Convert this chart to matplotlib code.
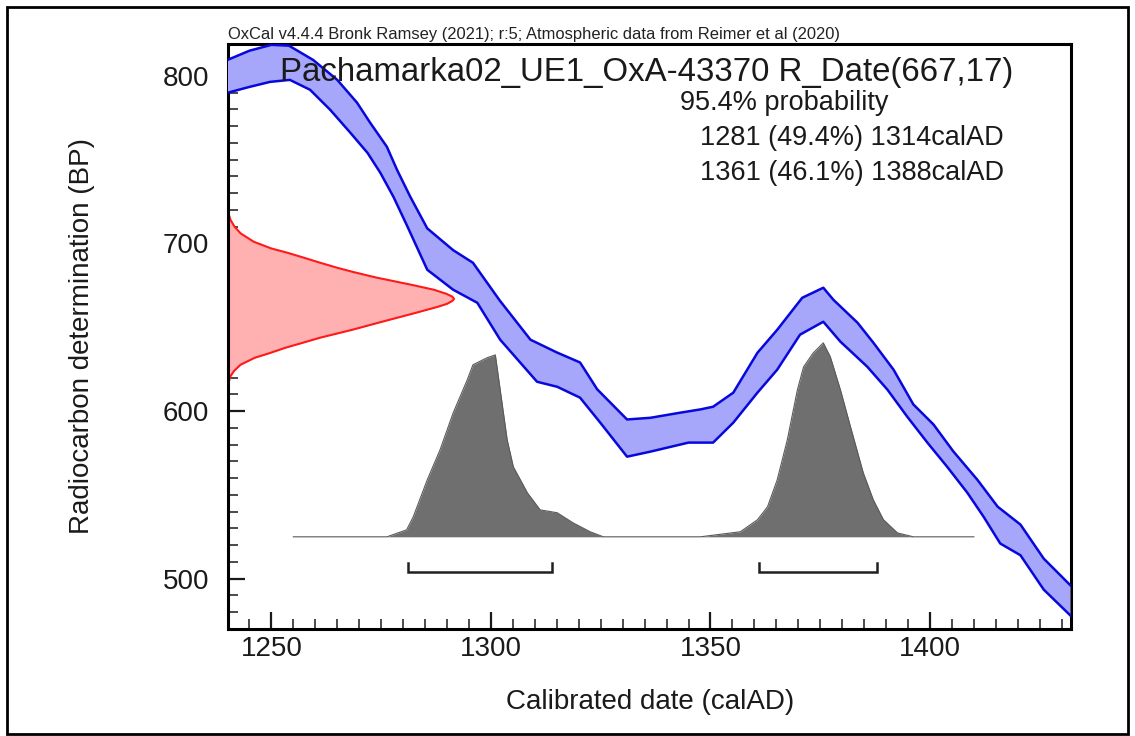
import matplotlib
matplotlib.use("Agg")
import matplotlib.pyplot as plt
from matplotlib.patches import Rectangle
from matplotlib.ticker import MultipleLocator

plt.rcParams['font.family'] = ['Liberation Sans', 'DejaVu Sans']

# ---------------- data ----------------
# Calibration curve band (IntCal20)
curve_upper_cal = [1240, 1245, 1250, 1254, 1259.5, 1265, 1269.5, 1272.5, 1276.3, 1278.6,
                   1281.6, 1285.5, 1291.4, 1295.9, 1302, 1309, 1315, 1320.3, 1324.2, 1331,
                   1336.3, 1343, 1347.7, 1350.6, 1355.2, 1360.7, 1365.2, 1370.9, 1375.7, 1378,
                   1383.5, 1387.1, 1391.7, 1396.2, 1400.8, 1405.3, 1410.8, 1415.4, 1420.6,
                   1425.9, 1432]
curve_upper_bp = [809.5, 815, 818.5, 818, 809.5, 797.6, 784, 772, 757.7, 744,
                  728, 709, 696, 688.5, 666, 642.6, 635, 629, 613, 595,
                  596, 599, 601, 602.6, 611, 634.8, 648.5, 667.6, 673.6, 666.4,
                  652.7, 640.8, 624.7, 604, 592, 576, 559, 543, 532.3,
                  512, 496]
curve_lower_cal = [1240, 1245, 1249.7, 1254.2, 1258.8, 1263.4, 1268, 1271.9, 1274.8, 1277.8,
                   1281, 1285.5, 1291.4, 1296.9, 1302.1, 1310.5, 1315.1, 1320.3, 1324.9, 1331,
                   1336.3, 1345, 1347.7, 1350.6, 1355.2, 1360.7, 1365.2, 1370.4, 1375.7, 1379.6,
                   1385.7, 1390.3, 1394.8, 1399.4, 1403.9, 1408.5, 1412.2, 1416, 1420.6,
                   1425.9, 1432]
curve_lower_bp = [789.9, 793.4, 796.4, 797.6, 791.7, 779.7, 766, 754, 742.2, 727.8,
                  710, 684.3, 672.4, 664.6, 642.6, 617.5, 614.5, 608, 593.1, 572.8,
                  575.8, 581.2, 581.2, 581.2, 593.1, 611, 624.7, 645.6, 653.3, 641.4,
                  626.5, 612.8, 596.7, 581.2, 566.8, 551.3, 537, 521, 514,
                  493.5, 478]

# Radiocarbon date R_Date(667,17): outline (BP, width in cal years)
rdate_bp = [723, 718, 714, 710, 706, 701, 697, 694.5, 691.5, 688.5, 685.5, 683, 679.6,
            675.4, 672.4, 670, 668.3, 667, 665.7, 664, 662.3, 658.7, 653.3, 648.5, 643.8,
            640.5, 637.8, 634.5, 631.8, 627.7, 624, 620.5, 614]
rdate_width = [0, 0.2, 0.7, 1.6, 3.0, 6.0, 10.0, 13.6, 17.4, 21.1, 25.0, 28.6, 34.0,
               41.8, 47.0, 49.8, 51.2, 51.6, 51.2, 50.0, 48.0, 43.0, 35.2, 28.4, 21.1,
               16.8, 13.2, 9.5, 6.2, 3.0, 1.5, 0.6, 0]

# Calibrated probability (relative)
post_cal = [1255, 1276.3, 1280.8, 1282.3, 1285.5, 1288.4, 1291.4, 1294.6, 1295.9, 1299.1,
            1301.0, 1303.7, 1305.1, 1308.3, 1311.2, 1315.1, 1318.7, 1322.6, 1325.6,
            1347.7, 1356.8, 1360.7, 1363.0, 1365.2, 1367.5, 1369.8, 1371.2, 1373.4, 1375.7,
            1377.3, 1379.6, 1381.9, 1384.8, 1387.1, 1389.4, 1392.6, 1396.2, 1410]
post_prob = [0, 0, 0.036, 0.103, 0.294, 0.448, 0.639, 0.809, 0.887, 0.923,
             0.938, 0.5, 0.361, 0.227, 0.139, 0.124, 0.072, 0.026, 0,
             0, 0.026, 0.088, 0.155, 0.294, 0.5, 0.758, 0.876, 0.948, 1.0,
             0.928, 0.758, 0.567, 0.33, 0.19, 0.088, 0.02, 0, 0]

# 95.4% ranges
range_start = [1281, 1361]
range_end = [1314, 1388]
range_pct = ["49.4%", "46.1%"]

r_name = "Pachamarka02_UE1_OxA-43370 R_Date(667,17)"
header = "OxCal v4.4.4 Bronk Ramsey (2021); r:5; Atmospheric data from Reimer et al (2020)"

# ---------------- plot ----------------
W, H = 1135, 736
fig = plt.figure(figsize=(W / 100, H / 100), dpi=100)
ax = fig.add_axes([227.5 / W, 1 - 629 / H, (1070.5 - 227.5) / W, (629 - 44) / H])
ax.set_xlim(1240, 1432)
ax.set_ylim(470, 819)

# posterior (grey)
base_bp = 525
scale_bp = 115.7
post_y = [base_bp + p * scale_bp for p in post_prob]
ax.fill_between(post_cal, base_bp, post_y, color='#6f6f6f', lw=0, zorder=1)
ax.plot(post_cal, post_y, color='#5a5a5a', lw=0.8, zorder=1)

# ranges
for s, e in zip(range_start, range_end):
    ax.plot([s, s, e, e], [509.5, 504.2, 504.2, 509.5], color='#202020', lw=1.8,
            solid_joinstyle='miter', zorder=2)

# radiocarbon date (red)
x0 = 1240
red_x = [x0 + w for w in rdate_width]
ax.fill_betweenx(rdate_bp, x0, red_x, color='#ffb0b0', lw=0, zorder=2)
ax.plot(red_x, rdate_bp, color='#ff1a1a', lw=1.5, zorder=2)

# calibration curve band (blue)
band_x = curve_upper_cal + curve_lower_cal[::-1]
band_y = curve_upper_bp + curve_lower_bp[::-1]
ax.fill(band_x, band_y, color='#a6a6fa', lw=0, zorder=3)
ax.plot(curve_upper_cal, curve_upper_bp, color='#0808dd', lw=1.8, zorder=4)
ax.plot(curve_lower_cal, curve_lower_bp, color='#0808dd', lw=1.8, zorder=4)

# axes styling
for side in ['top', 'right', 'left', 'bottom']:
    ax.spines[side].set_linewidth(2.2)
ax.xaxis.set_major_locator(MultipleLocator(50))
ax.xaxis.set_minor_locator(MultipleLocator(5))
ax.yaxis.set_major_locator(MultipleLocator(100))
ax.yaxis.set_minor_locator(MultipleLocator(10))
ax.tick_params(which='both', direction='in', top=False, right=False, labelsize=20,
               colors='#1a1a1a')
ax.tick_params(which='major', length=12, width=1.6)
ax.tick_params(which='minor', length=7, width=1.1)
ax.tick_params(axis='x', which='major', pad=5)
ax.tick_params(axis='y', which='major', pad=13)

fig.text(650 / W, 1 - 702 / H, "Calibrated date (calAD)", ha='center', va='center',
         fontsize=20, color='#1a1a1a')
fig.text(82 / W, 1 - 336 / H, "Radiocarbon determination (BP)", ha='center', va='center',
         rotation=90, fontsize=20, color='#1a1a1a')

fig.text(280 / W, 1 - 72 / H, r_name, ha='left', va='center', fontsize=23.8, color='#1a1a1a',
         zorder=10)
fig.text(680 / W, 1 - 103 / H, "95.4% probability", ha='left', va='center', fontsize=19.5,
         color='#1a1a1a')
for i, (s, e, p) in enumerate(zip(range_start, range_end, range_pct)):
    fig.text(700 / W, 1 - (138 + 35 * i) / H, f"{s} ({p}) {e}calAD", ha='left', va='center',
             fontsize=19.5, color='#1a1a1a')

fig.text(228 / W, 1 - 35 / H, header, ha='left', va='center', fontsize=11.9,
         color='#222222')

# outer frame
fig.patches.append(Rectangle((7 / W, 1 - 734 / H), (1128 - 7) / W, (734 - 7) / H,
                             transform=fig.transFigure, fill=False, ec='black', lw=2))

fig.savefig('out.png', dpi=100)
